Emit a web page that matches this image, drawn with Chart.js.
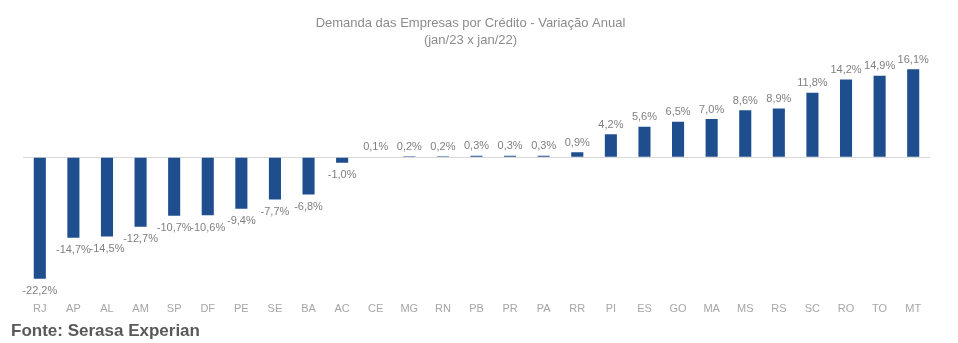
<!DOCTYPE html>
<html>
<head>
<meta charset="utf-8">
<script src="https://cdn.jsdelivr.net/npm/chart.js@4"></script>
<style>
  body { margin: 0; background: #fff; }
  #wrap { width: 958px; height: 343px; position: relative; }
</style>
</head>
<body>
<div id="wrap"><canvas id="mychart"></canvas></div>
<script>
// estados, ordenados pela variacao
const estados = ["RJ", "AP", "AL", "AM", "SP", "DF", "PE", "SE", "BA", "AC", "CE", "MG", "RN", "PB",
  "PR", "PA", "RR", "PI", "ES", "GO", "MA", "MS", "RS", "SC", "RO", "TO", "MT"];

// variacao anual (%) jan/23 x jan/22
const variacao = [-22.2, -14.7, -14.5, -12.7, -10.7, -10.6, -9.4, -7.7, -6.8, -1.0, 0.1, 0.2, 0.2, 0.3,
  0.3, 0.3, 0.9, 4.2, 5.6, 6.5, 7.0, 8.6, 8.9, 11.8, 14.2, 14.9, 16.1];

const tituloLinhas = ["Demanda das Empresas por Crédito - Variação Anual", "(jan/23 x jan/22)"];
const fonte = "Fonte: Serasa Experian";

const fmt = v => v.toFixed(1).replace(".", ",") + "%";

// rotulos de valor acima/abaixo de cada barra
const rotulos = {
  id: "rotulos",
  afterDatasetsDraw(chart) {
    const ctx = chart.ctx;
    const meta = chart.getDatasetMeta(0);
    ctx.save();
    ctx.font = "11px 'Liberation Sans', Arial, sans-serif";
    ctx.fillStyle = "#808080";
    ctx.textAlign = "center";
    meta.data.forEach((bar, i) => {
      const v = variacao[i];
      if (v >= 0) {
        ctx.textBaseline = "bottom";
        ctx.fillText(fmt(v), bar.x, bar.y - 4);
      } else {
        ctx.textBaseline = "top";
        ctx.fillText(fmt(v), bar.x, bar.y + 7);
      }
    });
    ctx.restore();
  }
};

const data = {
  labels: estados,
  datasets: [{
    data: variacao,
    backgroundColor: "#1f4e8f",
    categoryPercentage: 1,
    barPercentage: 0.36
  }]
};

const config = {
  type: "bar",
  data: data,
  options: {
    responsive: true,
    maintainAspectRatio: false,
    animation: false,
    layout: { padding: { left: 11, right: 28, top: 8, bottom: 1 } },
    plugins: {
      legend: { display: false },
      tooltip: { enabled: false },
      title: {
        display: true,
        text: tituloLinhas,
        color: "#8c8c8c",
        font: { family: "'Liberation Sans', Arial, sans-serif", size: 13, weight: "normal", lineHeight: 1.3 },
        padding: { top: 7, bottom: 10 }
      },
      subtitle: {
        display: true,
        position: "bottom",
        align: "start",
        text: fonte,
        color: "#595959",
        font: { family: "'Liberation Sans', Arial, sans-serif", size: 17, weight: "bold" },
        padding: { top: 0, bottom: 0 }
      }
    },
    scales: {
      x: {
        afterFit: s => { s.height = 33; },
        grid: { display: false, drawTicks: false },
        border: { display: false },
        ticks: {
          color: "#a6a6a6",
          font: { family: "'Liberation Sans', Arial, sans-serif", size: 11 },
          padding: 14,
          maxRotation: 0,
          autoSkip: false
        }
      },
      y: {
        min: -24,
        max: 18,
        afterFit: s => { s.width = 12; },
        ticks: { display: false, stepSize: 6 },
        border: { display: false },
        grid: {
          drawTicks: false,
          color: c => c.tick.value === 0 ? "#d9d9d9" : "rgba(0,0,0,0)"
        }
      }
    }
  },
  plugins: [rotulos]
};

const mychart = new Chart(document.getElementById("mychart"), config);
</script>
</body>
</html>
